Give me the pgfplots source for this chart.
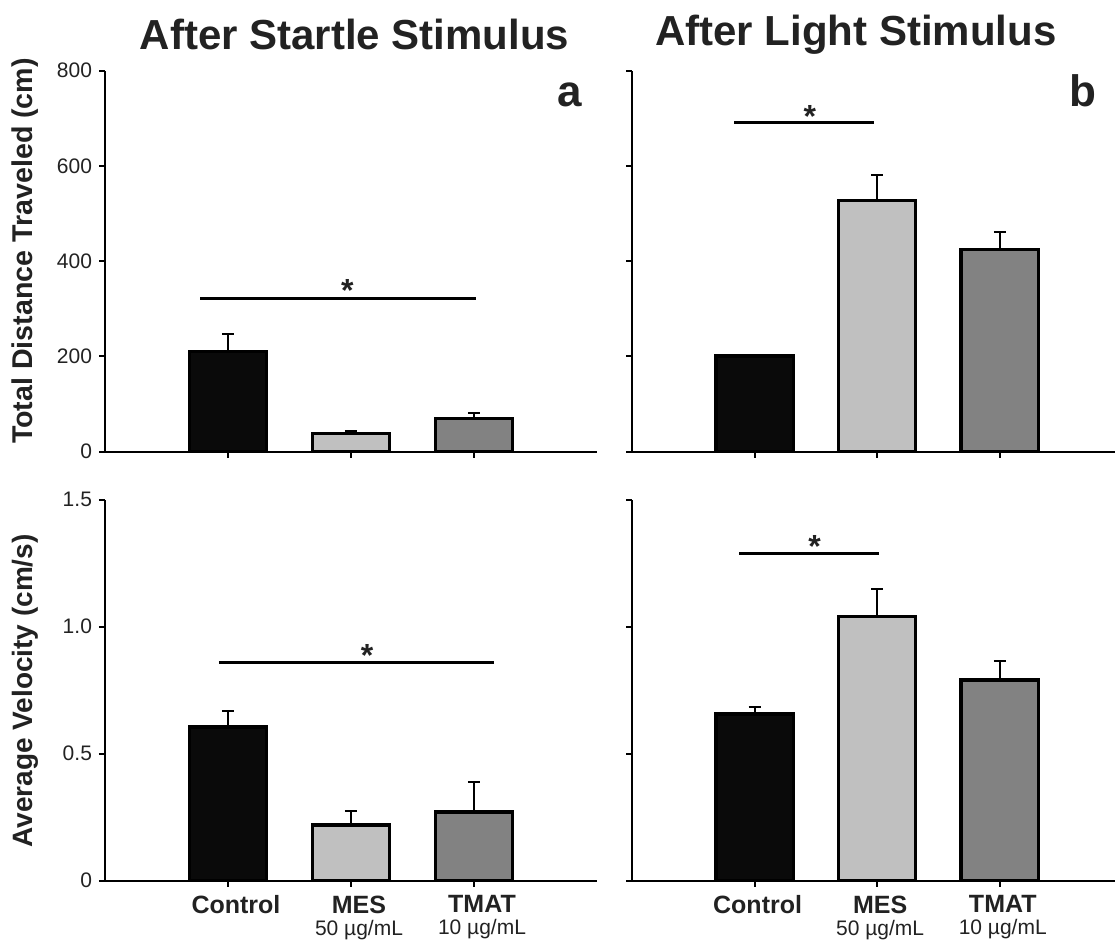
\documentclass[border=0pt]{standalone}
\usepackage{pgfplots}
\pgfplotsset{compat=1.18}
\usepackage{fontspec}
\setmainfont{Liberation Sans}
\definecolor{cblack}{HTML}{0A0A0A}
\definecolor{clight}{HTML}{C0C0C0}
\definecolor{cdark}{HTML}{828282}
\definecolor{ctext}{HTML}{222222}

\tikzset{
  sig/.style={line width=1.5pt, black},
  star/.style={font=\bfseries\fontsize{16}{16}\selectfont, text=ctext, yshift=-3.5pt},
}
\pgfplotsset{
  panel/.style={
    scale only axis, height=190.5pt,
    axis x line=bottom, axis y line=left,
    axis line style={-, line width=1pt, black},
    tick align=outside, major tick length=3pt,
    every tick/.style={line width=1pt, black},
    xtick={1,2,3},
    ybar, bar width=0.63, bar shift=0pt,
    clip=false, ymin=0,
    yticklabel style={font=\fontsize{10.5}{12}\selectfont, text=ctext},
    xticklabel style={align=center, anchor=north, text=ctext, yshift=-1pt},
    anchor=south west,
  },
  leftp/.style={panel, width=246pt, xmin=0, xmax=4},
  rightp/.style={panel, width=241.5pt, xmin=0, xmax=3.94, yticklabels={}},
  catlabels/.style={xticklabels={
    {\bfseries\fontsize{12.5}{12}\selectfont Control},
    {\bfseries\fontsize{12.5}{12}\selectfont MES\\[-1pt]\fontsize{10.5}{12}\selectfont 50 µg/mL},
    {\bfseries\fontsize{12.5}{12}\selectfont TMAT\\[-1pt]\fontsize{10.5}{12}\selectfont 10 µg/mL}}},
  nolabels/.style={xticklabels={}},
  eb/.style={error bars/.cd, y dir=plus, y explicit,
    error bar style={line width=1pt, black},
    error mark options={rotate=90, mark size=3pt, line width=1pt, black}},
}

\begin{document}
\begin{tikzpicture}[x=0.5pt, y=0.5pt]
\path[use as bounding box] (0,0) rectangle (1115,941);
\coordinate (TL) at (105,489.3);
\coordinate (TR) at (632,489.3);
\coordinate (BL) at (105,60.3);
\coordinate (BR) at (632,60.3);

% Top-left: distance after startle
\begin{axis}[leftp, nolabels, at={(TL)}, ymax=800,
  ytick={0,200,400,600,800}, yticklabels={0,200,400,600,800}]
  \addplot[fill=cblack, draw=black, line width=1.7pt, eb] coordinates {(1,210) +- (0,37)};
  \addplot[fill=clight, draw=black, line width=1.7pt, eb] coordinates {(2,38) +- (0,6)};
  \addplot[fill=cdark, draw=black, line width=1.7pt, eb] coordinates {(3,70) +- (0,12)};
  \draw[sig] (axis cs:0.774,322.7) -- (axis cs:3.02,322.7);
  \node[star] at (axis cs:1.97,352.7) {*};
\end{axis}

% Top-right: distance after light
\begin{axis}[rightp, nolabels, at={(TR)}, ymax=800,
  ytick={0,200,400,600,800}]
  \addplot[fill=cblack, draw=black, line width=1.7pt, eb] coordinates {(1,201) +- (0,0)};
  \addplot[fill=clight, draw=black, line width=1.7pt, eb] coordinates {(2,527) +- (0,55)};
  \addplot[fill=cdark, draw=black, line width=1.7pt, eb] coordinates {(3,425) +- (0,36)};
  \draw[sig] (axis cs:0.835,691) -- (axis cs:1.977,691);
  \node[star] at (axis cs:1.45,719) {*};
\end{axis}

% Bottom-left: velocity after startle
\begin{axis}[leftp, catlabels, at={(BL)}, ymax=1.5,
  ytick={0,0.5,1,1.5}, yticklabels={0,0.5,1.0,1.5},
  xticklabel style={xshift=4pt}]
  \addplot[fill=cblack, draw=black, line width=1.7pt, eb] coordinates {(1,0.605) +- (0,0.063)};
  \addplot[fill=clight, draw=black, line width=1.7pt, eb] coordinates {(2,0.22) +- (0,0.056)};
  \addplot[fill=cdark, draw=black, line width=1.7pt, eb] coordinates {(3,0.27) +- (0,0.12)};
  \draw[sig] (axis cs:0.925,0.859) -- (axis cs:3.16,0.859);
  \node[star] at (axis cs:2.13,0.914) {*};
\end{axis}

% Bottom-right: velocity after light
\begin{axis}[rightp, catlabels, at={(BR)}, ymax=1.5,
  ytick={0,0.5,1,1.5}, xticklabel style={xshift=1.5pt}]
  \addplot[fill=cblack, draw=black, line width=1.7pt, eb] coordinates {(1,0.656) +- (0,0.026)};
  \addplot[fill=clight, draw=black, line width=1.7pt, eb] coordinates {(2,1.039) +- (0,0.109)};
  \addplot[fill=cdark, draw=black, line width=1.7pt, eb] coordinates {(3,0.79) +- (0,0.075)};
  \draw[sig] (axis cs:0.874,1.29) -- (axis cs:2.016,1.29);
  \node[star] at (axis cs:1.49,1.345) {*};
\end{axis}

% Titles and labels
\node[font=\bfseries\fontsize{21}{24}\selectfont, text=ctext] at (354.5,906) {After Startle Stimulus};
\node[font=\bfseries\fontsize{21}{24}\selectfont, text=ctext] at (856,906) {After Light Stimulus};
\node[font=\bfseries\fontsize{22}{24}\selectfont, text=ctext, anchor=base] at (570,834) {a};
\node[font=\bfseries\fontsize{22}{24}\selectfont, text=ctext, anchor=base] at (1083,834) {b};
\node[font=\bfseries\fontsize{14.3}{16}\selectfont, text=ctext, rotate=90] at (25,690) {Total Distance Traveled (cm)};
\node[font=\bfseries\fontsize{14}{16}\selectfont, text=ctext, rotate=90] at (25,250) {Average Velocity (cm/s)};
\end{tikzpicture}
\end{document}
